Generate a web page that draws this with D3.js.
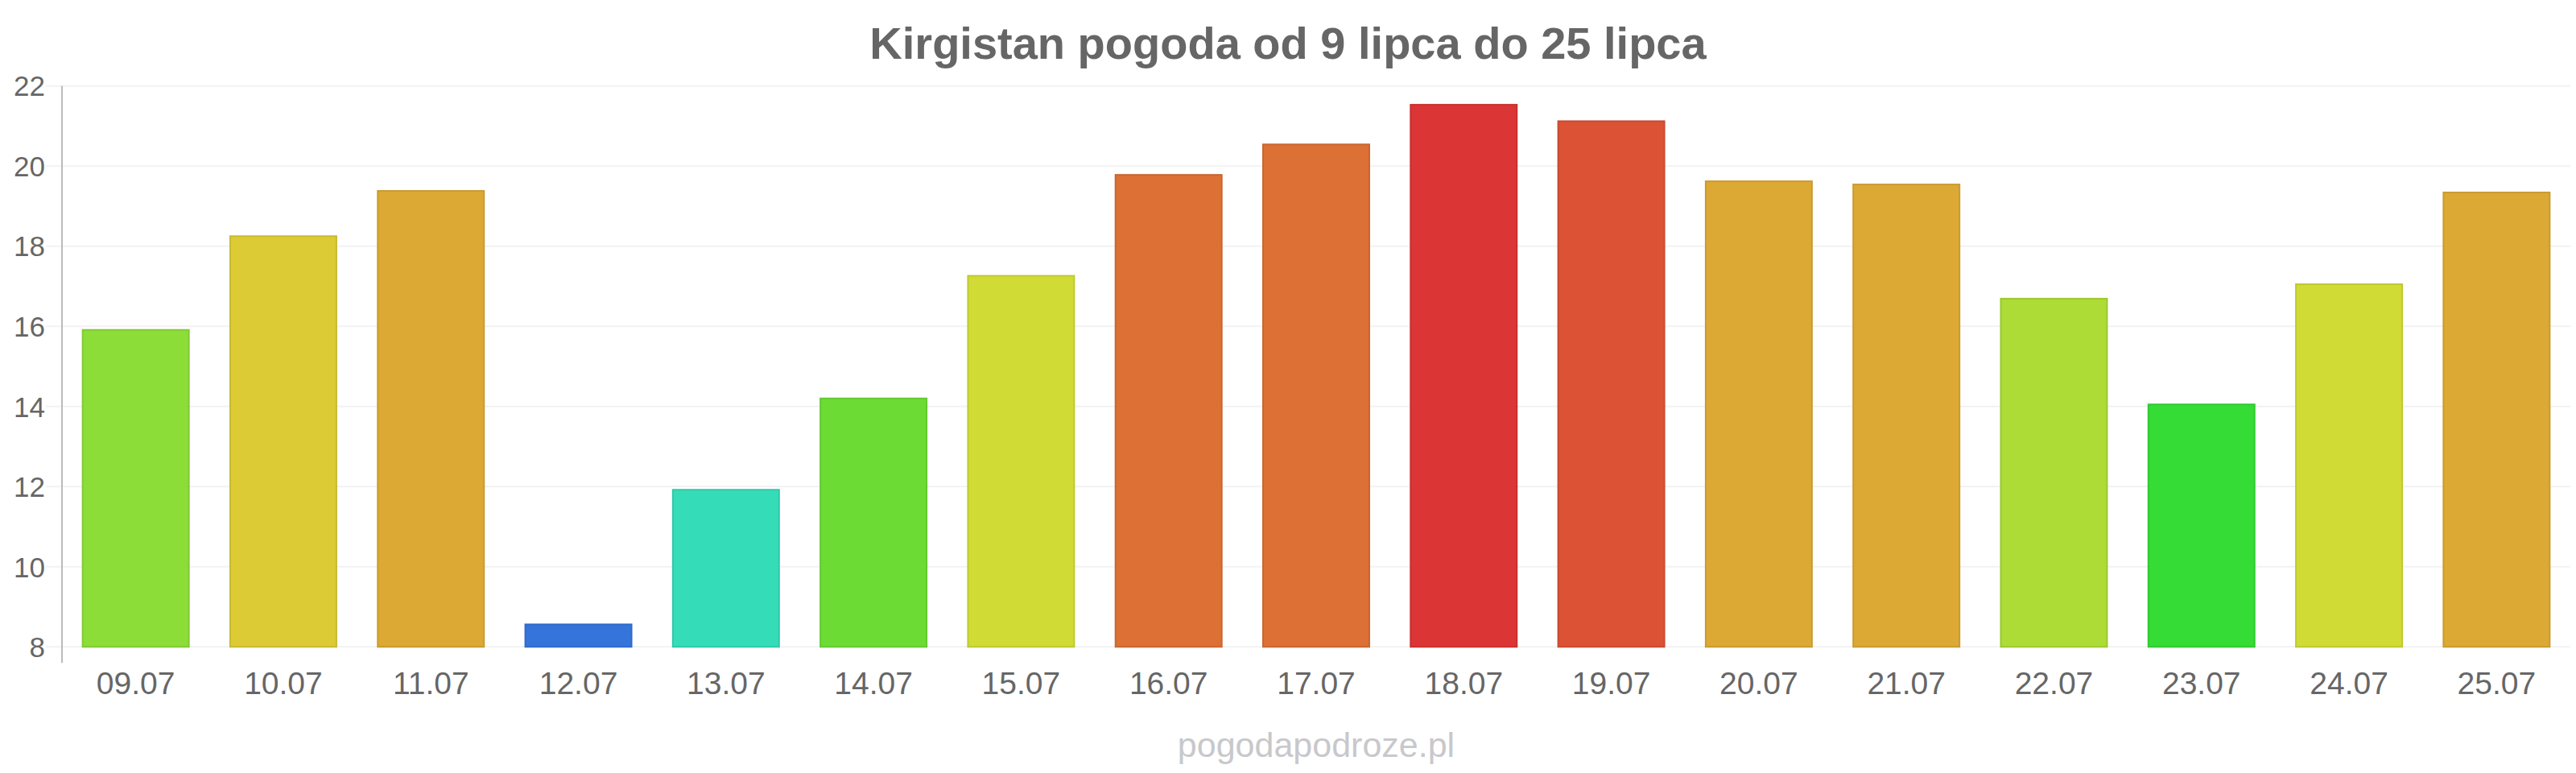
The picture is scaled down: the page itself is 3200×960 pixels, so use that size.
<!DOCTYPE html>
<html>
<head>
<meta charset="utf-8">
<script src="https://cdn.jsdelivr.net/npm/d3@7"></script>
<style>
  html, body { margin: 0; padding: 0; background: #ffffff; }
  svg { display: block; font-family: "Liberation Sans", Arial, sans-serif; }
</style>
</head>
<body>
<svg id="chart" width="3200" height="960"></svg>
<script>
const titleText = "Kirgistan pogoda od 9 lipca do 25 lipca";
const watermarkText = "pogodapodroze.pl";
const categories = ["09.07","10.07","11.07","12.07","13.07","14.07","15.07","16.07","17.07","18.07","19.07","20.07","21.07","22.07","23.07","24.07","25.07"];
const values = [15.91, 18.25, 19.38, 8.56, 11.92, 14.2, 17.26, 19.78, 20.54, 21.53, 21.12, 19.62, 19.54, 16.69, 14.05, 17.05, 19.34];
const barColors = ["#8cdd38","#dccb35","#dca935","#3575db","#35dcb8","#6cdc35","#d0dc35","#dc7035","#dc7035","#dc3535","#dc5235","#dca935","#dca935","#acdc35","#35dc35","#d0dc35","#dca935"];
const yTicks = [8, 10, 12, 14, 16, 18, 20, 22];

(function () {
const svg = d3.select("#chart");
const W = 3200, H = 960;
const mLeft = 77, mRight = 3193, mTop = 106.7, mBottom = 803.3;

const x = d3.scaleBand().domain(categories).range([mLeft, mRight]).paddingInner(0.28).paddingOuter(0.14);
const y = d3.scaleLinear().domain([8, 22]).range([mBottom, mTop]);

// gridlines (with tick stubs left of axis)
svg.append("g").selectAll("line").data(yTicks).join("line")
  .attr("x1", mLeft - 20).attr("x2", mRight)
  .attr("y1", d => y(d)).attr("y2", d => y(d))
  .attr("stroke", "#f2f2f2").attr("stroke-width", 2);

// y axis labels
const yAxis = d3.axisLeft(y).tickValues(yTicks).tickSize(0).tickPadding(21).tickFormat(d3.format("d"));
const gy = svg.append("g").attr("transform", `translate(${mLeft},0)`).call(yAxis);
gy.select(".domain").remove();
gy.selectAll("text").attr("fill", "#666666").attr("font-size", 35)
  .attr("font-family", "'Liberation Sans', Arial, sans-serif").attr("dy", "0.35em");

// y axis line
svg.append("line").attr("x1", mLeft).attr("x2", mLeft)
  .attr("y1", y(22)).attr("y2", mBottom + 20)
  .attr("stroke", "#bbbbbb").attr("stroke-width", 2);

// bars
svg.append("g").selectAll("rect").data(values).join("rect")
  .attr("x", (d, i) => x(categories[i]))
  .attr("width", x.bandwidth())
  .attr("y", d => y(d))
  .attr("height", d => y(8) - y(d))
  .attr("fill", (d, i) => barColors[i])
  .attr("stroke", (d, i) => d3.color(barColors[i]).darker(0.25))
  .attr("stroke-width", 2);

// x axis labels
const xAxis = d3.axisBottom(x).tickSize(0).tickPadding(0);
const gx = svg.append("g").attr("transform", `translate(0,${mBottom})`).call(xAxis);
gx.select(".domain").remove();
gx.selectAll("text").attr("fill", "#666666").attr("font-size", 39)
  .attr("font-family", "'Liberation Sans', Arial, sans-serif")
  .attr("y", 58.4).attr("dy", 0);

// title
svg.append("text").attr("x", W / 2).attr("y", 73)
  .attr("text-anchor", "middle").attr("font-size", 56).attr("font-weight", "bold")
  .attr("fill", "#666666").text(titleText);

// watermark
svg.append("text").attr("x", (mLeft + mRight) / 2).attr("y", 940)
  .attr("text-anchor", "middle").attr("font-size", 43)
  .attr("fill", "#c8c8cc").text(watermarkText);
})();
</script>
</body>
</html>
